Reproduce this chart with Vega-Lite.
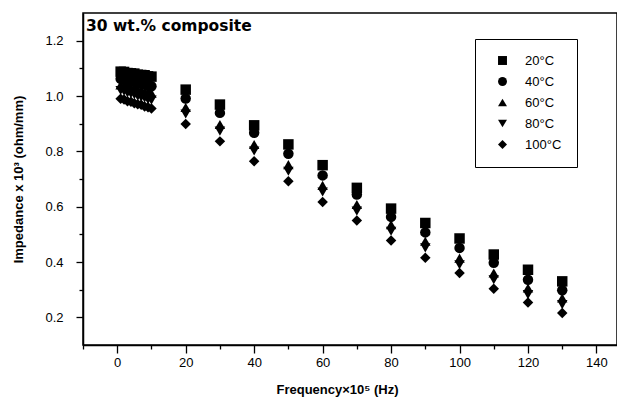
{
  "$schema": "https://vega.github.io/schema/vega-lite/v6.json",
  "width": 534,
  "height": 332,
  "autosize": "none",
  "padding": {"left": 83, "top": 13, "right": 0, "bottom": 63},
  "background": "white",
  "config": {"view": {"stroke": "black", "strokeWidth": 1.5}, "font": "Liberation Sans"},
  "title": {"text": "30 wt.% composite", "anchor": "start", "frame": "group", "font": "DejaVu Sans", "fontSize": 15.5, "fontWeight": "bold", "baseline": "alphabetic", "offset": 0, "dy": 33, "dx": 3, "color": "black"},
  "data": {"values": [
    {"f": 1, "t": "20°C", "z": 1.088}, {"f": 2, "t": "20°C", "z": 1.087}, {"f": 3, "t": "20°C", "z": 1.083}, {"f": 4, "t": "20°C", "z": 1.082}, {"f": 5, "t": "20°C", "z": 1.081}, {"f": 6, "t": "20°C", "z": 1.077}, {"f": 7, "t": "20°C", "z": 1.076}, {"f": 8, "t": "20°C", "z": 1.075}, {"f": 9, "t": "20°C", "z": 1.071}, {"f": 10, "t": "20°C", "z": 1.070},
    {"f": 20, "t": "20°C", "z": 1.023}, {"f": 30, "t": "20°C", "z": 0.969}, {"f": 40, "t": "20°C", "z": 0.894}, {"f": 50, "t": "20°C", "z": 0.825}, {"f": 60, "t": "20°C", "z": 0.750}, {"f": 70, "t": "20°C", "z": 0.668}, {"f": 80, "t": "20°C", "z": 0.593}, {"f": 90, "t": "20°C", "z": 0.541}, {"f": 100, "t": "20°C", "z": 0.485}, {"f": 110, "t": "20°C", "z": 0.427}, {"f": 120, "t": "20°C", "z": 0.372}, {"f": 130, "t": "20°C", "z": 0.330},
    {"f": 1, "t": "40°C", "z": 1.062}, {"f": 2, "t": "40°C", "z": 1.060}, {"f": 3, "t": "40°C", "z": 1.055}, {"f": 4, "t": "40°C", "z": 1.053}, {"f": 5, "t": "40°C", "z": 1.051}, {"f": 6, "t": "40°C", "z": 1.046}, {"f": 7, "t": "40°C", "z": 1.044}, {"f": 8, "t": "40°C", "z": 1.042}, {"f": 9, "t": "40°C", "z": 1.037}, {"f": 10, "t": "40°C", "z": 1.035},
    {"f": 20, "t": "40°C", "z": 0.991}, {"f": 30, "t": "40°C", "z": 0.939}, {"f": 40, "t": "40°C", "z": 0.867}, {"f": 50, "t": "40°C", "z": 0.791}, {"f": 60, "t": "40°C", "z": 0.713}, {"f": 70, "t": "40°C", "z": 0.644}, {"f": 80, "t": "40°C", "z": 0.563}, {"f": 90, "t": "40°C", "z": 0.507}, {"f": 100, "t": "40°C", "z": 0.451}, {"f": 110, "t": "40°C", "z": 0.397}, {"f": 120, "t": "40°C", "z": 0.336}, {"f": 130, "t": "40°C", "z": 0.298},
    {"f": 1, "t": "60°C", "z": 1.040}, {"f": 2, "t": "60°C", "z": 1.038}, {"f": 3, "t": "60°C", "z": 1.033}, {"f": 4, "t": "60°C", "z": 1.031}, {"f": 5, "t": "60°C", "z": 1.027}, {"f": 6, "t": "60°C", "z": 1.023}, {"f": 7, "t": "60°C", "z": 1.021}, {"f": 8, "t": "60°C", "z": 1.016}, {"f": 9, "t": "60°C", "z": 1.014}, {"f": 10, "t": "60°C", "z": 1.010},
    {"f": 20, "t": "60°C", "z": 0.959}, {"f": 30, "t": "60°C", "z": 0.897}, {"f": 40, "t": "60°C", "z": 0.825}, {"f": 50, "t": "60°C", "z": 0.752}, {"f": 60, "t": "60°C", "z": 0.677}, {"f": 70, "t": "60°C", "z": 0.608}, {"f": 80, "t": "60°C", "z": 0.535}, {"f": 90, "t": "60°C", "z": 0.475}, {"f": 100, "t": "60°C", "z": 0.414}, {"f": 110, "t": "60°C", "z": 0.360}, {"f": 120, "t": "60°C", "z": 0.306}, {"f": 130, "t": "60°C", "z": 0.270},
    {"f": 1, "t": "80°C", "z": 1.020}, {"f": 2, "t": "80°C", "z": 1.017}, {"f": 3, "t": "80°C", "z": 1.011}, {"f": 4, "t": "80°C", "z": 1.008}, {"f": 5, "t": "80°C", "z": 1.005}, {"f": 6, "t": "80°C", "z": 0.999}, {"f": 7, "t": "80°C", "z": 0.996}, {"f": 8, "t": "80°C", "z": 0.993}, {"f": 9, "t": "80°C", "z": 0.987}, {"f": 10, "t": "80°C", "z": 0.985},
    {"f": 20, "t": "80°C", "z": 0.935}, {"f": 30, "t": "80°C", "z": 0.873}, {"f": 40, "t": "80°C", "z": 0.801}, {"f": 50, "t": "80°C", "z": 0.728}, {"f": 60, "t": "80°C", "z": 0.653}, {"f": 70, "t": "80°C", "z": 0.584}, {"f": 80, "t": "80°C", "z": 0.511}, {"f": 90, "t": "80°C", "z": 0.451}, {"f": 100, "t": "80°C", "z": 0.390}, {"f": 110, "t": "80°C", "z": 0.336}, {"f": 120, "t": "80°C", "z": 0.282}, {"f": 130, "t": "80°C", "z": 0.246},
    {"f": 1, "t": "100°C", "z": 0.990}, {"f": 2, "t": "100°C", "z": 0.987}, {"f": 3, "t": "100°C", "z": 0.981}, {"f": 4, "t": "100°C", "z": 0.979}, {"f": 5, "t": "100°C", "z": 0.974}, {"f": 6, "t": "100°C", "z": 0.970}, {"f": 7, "t": "100°C", "z": 0.968}, {"f": 8, "t": "100°C", "z": 0.962}, {"f": 9, "t": "100°C", "z": 0.959}, {"f": 10, "t": "100°C", "z": 0.955},
    {"f": 20, "t": "100°C", "z": 0.899}, {"f": 30, "t": "100°C", "z": 0.836}, {"f": 40, "t": "100°C", "z": 0.764}, {"f": 50, "t": "100°C", "z": 0.692}, {"f": 60, "t": "100°C", "z": 0.617}, {"f": 70, "t": "100°C", "z": 0.550}, {"f": 80, "t": "100°C", "z": 0.478}, {"f": 90, "t": "100°C", "z": 0.415}, {"f": 100, "t": "100°C", "z": 0.360}, {"f": 110, "t": "100°C", "z": 0.303}, {"f": 120, "t": "100°C", "z": 0.254}, {"f": 130, "t": "100°C", "z": 0.216}
  ]},
  "mark": {"type": "point", "filled": true, "opacity": 1, "size": 110, "color": "black"},
  "encoding": {
    "x": {
      "field": "f", "type": "quantitative",
      "scale": {"domain": [-10, 146], "nice": false, "zero": false},
      "axis": {
        "title": "Frequency×10⁵ (Hz)",
        "values": [-10, 0, 10, 20, 30, 40, 50, 60, 70, 80, 90, 100, 110, 120, 130, 140],
        "labelExpr": "datum.value % 20 === 0 ? datum.label : ''",
        "ticks": true,
        "tickSize": {"condition": {"test": "datum.value % 20 === 0", "value": 8}, "value": 4},
        "grid": false, "domainColor": "black", "domainWidth": 1.5, "tickColor": "black", "tickWidth": 1.3,
        "labelColor": "black", "labelFont": "Liberation Sans", "labelFontSize": 13, "labelPadding": 3,
        "labelOverlap": false, "labelFlush": false,
        "titleFont": "Liberation Sans", "titleFontSize": 13, "titleFontWeight": "bold", "titleColor": "black",
        "titlePadding": 14, "titleX": 254
      }
    },
    "y": {
      "field": "z", "type": "quantitative",
      "scale": {"domain": [0.1, 1.3], "nice": false, "zero": false},
      "axis": {
        "title": "Impedance x 10³ (ohm/mm)",
        "values": [0.2, 0.3, 0.4, 0.5, 0.6, 0.7, 0.8, 0.9, 1.0, 1.1, 1.2],
        "labelExpr": "round(datum.value * 10) % 2 === 0 ? format(datum.value, '.1f') : ''",
        "ticks": true,
        "tickSize": {"condition": {"test": "round(datum.value * 10) % 2 === 0", "value": 7}, "value": 4},
        "grid": false, "domainColor": "black", "domainWidth": 1.5, "tickColor": "black", "tickWidth": 1.3,
        "labelColor": "black", "labelFont": "Liberation Sans", "labelFontSize": 13, "labelPadding": 13,
        "labelOverlap": false, "labelFlush": false,
        "titleFont": "Liberation Sans", "titleFontSize": 13, "titleFontWeight": "bold", "titleColor": "black",
        "titlePadding": 19
      }
    },
    "shape": {
      "field": "t", "type": "nominal",
      "sort": ["20°C", "40°C", "60°C", "80°C", "100°C"],
      "scale": {"domain": ["20°C", "40°C", "60°C", "80°C", "100°C"], "range": ["square", "circle", "triangle-up", "triangle-down", "diamond"]},
      "legend": {
        "title": null, "orient": "none", "legendX": 392, "legendY": 26,
        "strokeColor": "black", "padding": 15, "symbolSize": 80,
        "symbolFillColor": "black", "symbolStrokeColor": "black", "symbolOpacity": 1,
        "symbolOffset": 6, "labelOffset": 16, "rowPadding": 6,
        "labelFont": "Liberation Sans", "labelFontSize": 13, "labelColor": "black"
      }
    }
  }
}
